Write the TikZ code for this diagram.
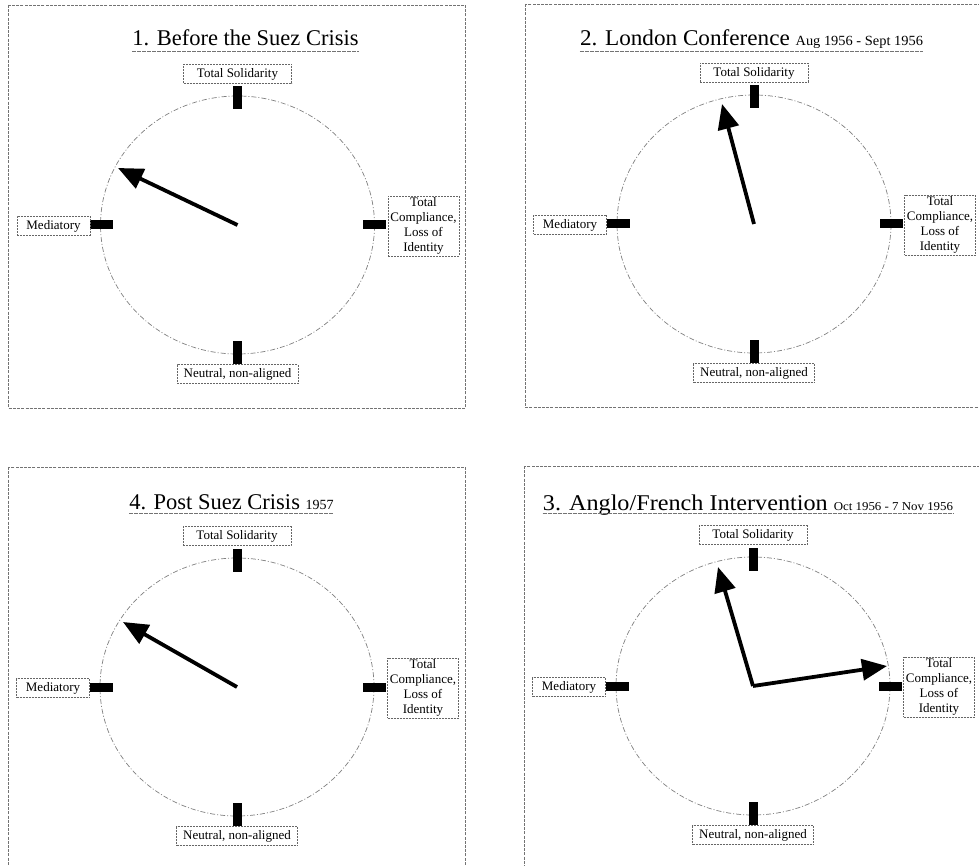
\documentclass[tikz,border=0pt]{standalone}
\usepackage{fontspec}
\usepackage{graphicx}
\setmainfont{Liberation Serif}
\usetikzlibrary{arrows.meta}
\newcommand\subfont{\fontsize{14}{16}\selectfont}
\tikzset{
  x=1pt, y=-1pt,
  frameline/.style={draw=black!55, line width=0.7pt, dash pattern=on 3pt off 1.2pt},
  dial/.style={draw=black!50, line width=0.7pt, dash pattern=on 5pt off 2pt on 1pt off 2pt},
  tickv/.style={fill=black, draw=none, minimum width=9pt, minimum height=23pt, inner sep=0pt},
  tickh/.style={fill=black, draw=none, minimum width=23pt, minimum height=9pt, inner sep=0pt},
  lab/.style={draw=black!60, line width=0.6pt, dash pattern=on 2pt off 1pt,
    font=\fontsize{13}{15}\selectfont, inner xsep=2pt, inner ysep=1.5pt, align=center,
    minimum height=19pt},
  hand/.style={line width=3.8pt, -{Triangle[length=25pt,width=21pt]}},
  ttl/.style={font=\fontsize{22.5}{26}\selectfont, inner sep=0pt, anchor=base},
  uline/.style={draw=black!55, line width=0.7pt, dash pattern=on 4pt off 1pt},
}
\newcommand\clockface[3]{%
  \coordinate (#1c) at (#2,#3);
  \draw[frameline] (#2-229,#3-220) rectangle (#2+228,#3+183);
  \draw[dial] (#1c) ellipse [x radius=137pt, y radius=129pt];
  \node[tickv] (#1tt) at (#2,#3-127) {};
  \node[tickv] (#1tb) at (#2,#3+127) {};
  \node[tickh] (#1tl) at (#2-136,#3) {};
  \node[tickh] (#1tr) at (#2+137,#3) {};
  \node[lab, minimum width=108pt] (#1ls) at (#2,#3-151) {Total Solidarity};
  \node[lab, minimum width=73pt] (#1lm) at (#2-184,#3+1) {Mediatory};
  \node[lab, minimum width=71pt] (#1lr) at (#2+186,#3+1) {Total\\Compliance,\\Loss of\\Identity};
  \node[lab, minimum width=121pt] (#1ln) at (#2,#3+149) {Neutral, non-aligned};
}
\begin{document}
\begin{tikzpicture}
\fill[white] (0,0) rectangle (979,866);
\useasboundingbox (0,0) rectangle (979,866);
\clip (0,0) rectangle (979,866);

% Panel 1
\clockface{p}{237.5}{225}
\node[ttl] (t1) at (245.5,46) {1. Before the Suez Crisis};
\draw[uline] ([yshift=-5pt]t1.base west) -- ([yshift=-5pt]t1.base east);
\coordinate (a1) at (118,168);
\draw[hand] (pc) -- (a1);

% Panel 2
\clockface{q}{754}{224}
\node[ttl] (t2) at (751.5,46) {\scalebox{1.03}[1]{2. London Conference {\subfont Aug 1956 - Sept 1956}}};
\draw[uline] ([yshift=-5pt]t2.base west) -- ([yshift=-5pt]t2.base east);
\coordinate (a2) at (722,104);
\draw[hand] (qc) -- (a2);

% Panel 4
\clockface{r}{237}{687}
\node[ttl] (t4) at (231.5,509) {4. Post Suez Crisis {\subfont 1957}};
\draw[uline] ([yshift=-4pt]t4.base west) -- ([yshift=-4pt]t4.base east);
\coordinate (a4) at (123,622);
\draw[hand] (rc) -- (a4);

% Panel 3
\clockface{s}{753}{686}
\node[ttl] (t3) at (748,510) {\scalebox{1.075}[1]{3. Anglo/French Intervention {\fontsize{12}{14}\selectfont Oct 1956 - 7 Nov 1956}}};
\draw[uline] ([yshift=-3pt]t3.base west) -- ([yshift=-3pt]t3.base east);
\coordinate (a3a) at (718,567);
\coordinate (a3b) at (887,666);
\draw[hand] (sc) -- (a3a);
\draw[hand] (sc) -- (a3b);
\end{tikzpicture}
\end{document}
